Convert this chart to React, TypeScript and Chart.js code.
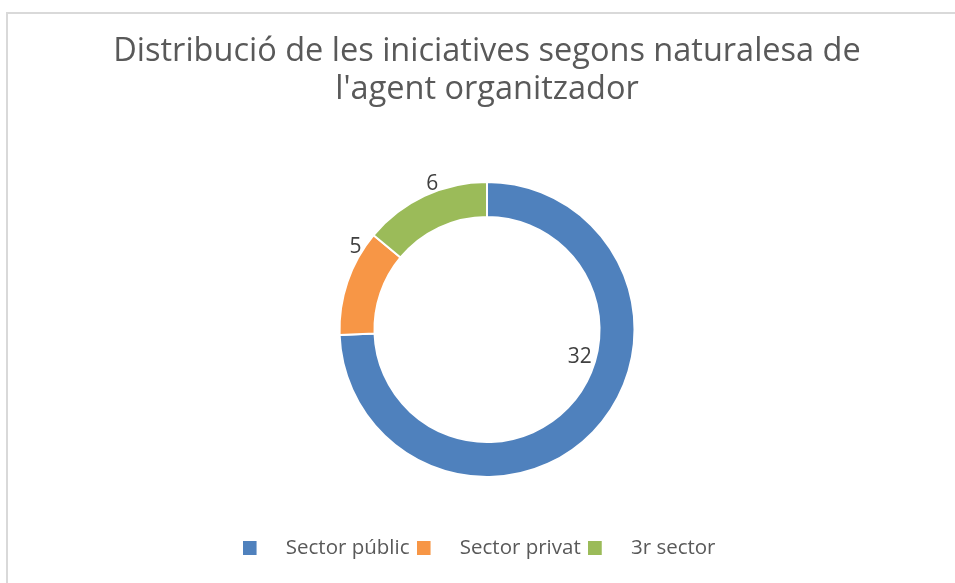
import React, { useEffect, useRef } from "react";
import { Chart, registerables } from "chart.js";

Chart.register(...registerables);

const categories = ["Sector públic", "Sector privat", "3r sector"];
const values = [32, 5, 6];
const colors = ["#4F81BD", "#F79646", "#9BBB59"];
const titleLines = ["Distribució de les iniciatives segons naturalesa de", "l'agent organitzador"];

// where each value label sits: fraction along its arc, radius relative to outer radius
const labelPlacement = [
  { frac: 0.397, r: 0.655 },
  { frac: 0.817, r: 1.052 },
  { frac: 0.59, r: 1.057 },
];

const FONT = '"Open Sans", sans-serif';

const valueLabels = {
  id: "valueLabels",
  afterDatasetsDraw(chart: any) {
    const meta = chart.getDatasetMeta(0);
    const ctx = chart.ctx;
    ctx.save();
    ctx.font = `21px ${FONT}`;
    ctx.fillStyle = "#404040";
    ctx.textAlign = "center";
    ctx.textBaseline = "middle";
    meta.data.forEach((arc: any, i: number) => {
      const p = arc.getProps(["x", "y", "startAngle", "endAngle", "outerRadius"], true);
      const pl = labelPlacement[i];
      const a = p.startAngle + (p.endAngle - p.startAngle) * pl.frac;
      const r = p.outerRadius * pl.r;
      ctx.fillText(String(values[i]), p.x + Math.cos(a) * r, p.y + Math.sin(a) * r);
    });
    ctx.restore();
  },
};

export default function App() {
  const ref = useRef<HTMLCanvasElement>(null);
  useEffect(() => {
    const canvas = ref.current!;
    const markerW = 33;
    const images = colors.map((c) => {
      const cv = document.createElement("canvas");
      cv.width = markerW;
      cv.height = 14;
      const g = cv.getContext("2d")!;
      g.fillStyle = c;
      g.fillRect(0, 0, 14, 14);
      return cv;
    });
    const chart = new Chart(canvas, {
      type: "doughnut",
      data: {
        labels: categories,
        datasets: [
          {
            data: values,
            backgroundColor: colors,
            borderColor: "#ffffff",
            borderWidth: 2,
            hoverBorderWidth: 2,
          },
        ],
      },
      options: {
        responsive: false,
        maintainAspectRatio: false,
        animation: false,
        devicePixelRatio: 1,
        radius: "73.66%",
        cutout: "76.3%",
        layout: { padding: { left: 20, right: 1, top: 33, bottom: 14.75 } },
        plugins: {
          title: {
            display: true,
            text: titleLines,
            color: "#595959",
            font: { family: FONT, size: 32.5, weight: "normal", lineHeight: 38 / 32.5 },
            padding: { top: 0, bottom: 19.25 },
          },
          legend: {
            position: "bottom",
            labels: {
              usePointStyle: true,
              pointStyleWidth: markerW,
              color: "#595959",
              padding: 7,
              font: { family: FONT, size: 20.5 },
              generateLabels: () =>
                categories.map((c, i) => ({
                  text: i === categories.length - 1 ? c + "   " : c,
                  fillStyle: colors[i],
                  strokeStyle: colors[i],
                  lineWidth: 0,
                  pointStyle: images[i],
                  fontColor: "#595959",
                  hidden: false,
                  index: i,
                })),
            },
          },
          tooltip: { enabled: false },
        },
      } as any,
      plugins: [valueLabels],
    });
    return () => chart.destroy();
  }, []);
  return (
    <div
      style={{
        position: "fixed",
        left: 0,
        top: 0,
        width: 955,
        height: 583,
        overflow: "hidden",
        background: "#fff",
      }}
    >
      <div
        style={{
          position: "absolute",
          left: 6,
          top: 12,
          width: 1000,
          height: 700,
          border: "2px solid #d9d9d9",
        }}
      />
      <canvas ref={ref} width={955} height={583} style={{ position: "absolute", left: 0, top: 0 }} />
    </div>
  );
}
